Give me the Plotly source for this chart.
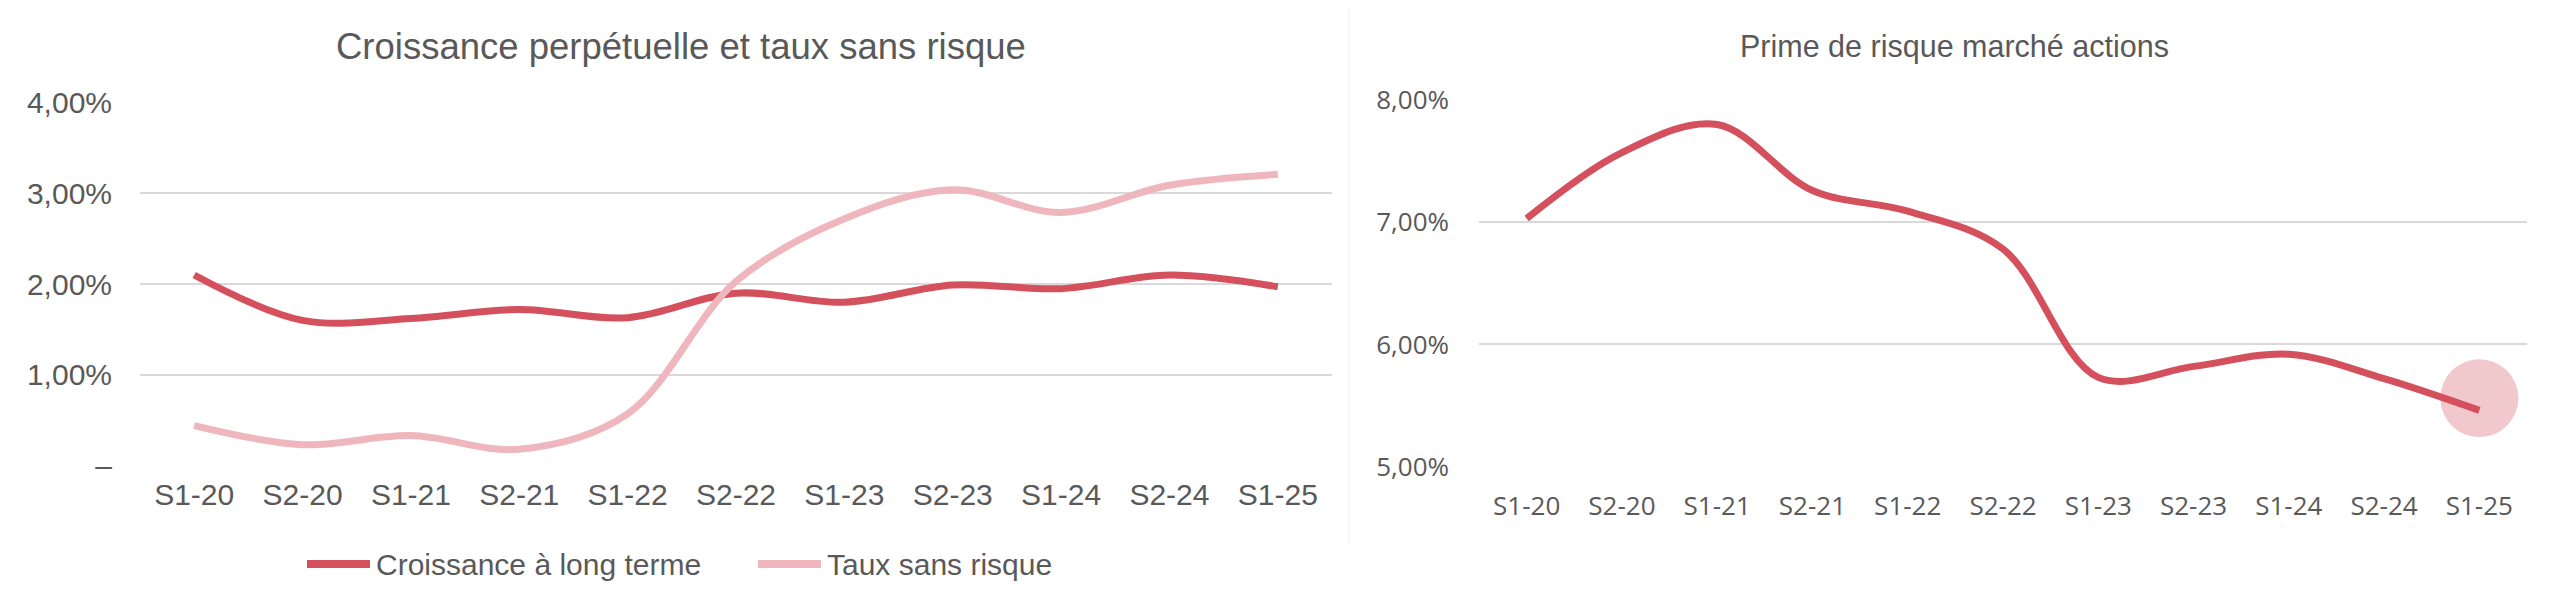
import plotly.graph_objects as go

# ---- data ----
periods = ["S1-20", "S2-20", "S1-21", "S2-21", "S1-22", "S2-22",
           "S1-23", "S2-23", "S1-24", "S2-24", "S1-25"]
croissance = [2.10, 1.60, 1.62, 1.72, 1.63, 1.90, 1.80, 1.99, 1.95, 2.10, 1.97]
taux_sans_risque = [0.44, 0.23, 0.33, 0.18, 0.57, 2.03, 2.72, 3.04, 2.79, 3.09, 3.21]
prime_risque = [7.03, 7.57, 7.80, 7.26, 7.09, 6.78, 5.73, 5.82, 5.92, 5.72, 5.46]
highlight_offset = 0.10

series_names = ["Croissance à long terme", "Taux sans risque"]

left_ticks = [0, 1, 2, 3, 4]
left_ticktext = ["–", "1,00%", "2,00%", "3,00%", "4,00%"]
right_ticks = [5, 6, 7, 8]
right_ticktext = ["5,00%", "6,00%", "7,00%", "8,00%"]

title_left = "Croissance perpétuelle et taux sans risque"
title_right = "Prime de risque marché actions"

# ---- style ----
W, H = 2560, 608
PAGE_OFF = 8  # default body margin of the html page
DARK = "#D4505D"
LIGHT = "#EFB7BD"
HALO = "#F1C9CD"
GRID = "#D9D9D9"
TXT = "#595959"
ARIAL = "Liberation Sans, Arial, sans-serif"
OPEN = "Open Sans, sans-serif"
series_colors = [DARK, LIGHT]

def px_x(v):
    return (v - PAGE_OFF) / W

def px_y(v):
    return (H - (v - PAGE_OFF)) / H

fig = go.Figure()

fig.add_trace(go.Scatter(
    x=periods, y=croissance, name=series_names[0], mode="lines",
    line=dict(color=DARK, width=7, shape="spline", smoothing=1.0),
    xaxis="x", yaxis="y", showlegend=False))
fig.add_trace(go.Scatter(
    x=periods, y=taux_sans_risque, name=series_names[1], mode="lines",
    line=dict(color=LIGHT, width=7, shape="spline", smoothing=1.0),
    xaxis="x", yaxis="y", showlegend=False))

# highlight halo on last point of right chart
fig.add_trace(go.Scatter(
    x=[periods[-1]], y=[prime_risque[-1] + highlight_offset], mode="markers",
    marker=dict(size=78, color=HALO, line=dict(width=0)),
    xaxis="x2", yaxis="y2", showlegend=False, hoverinfo="skip"))
fig.add_trace(go.Scatter(
    x=periods, y=prime_risque, name="Prime de risque", mode="lines",
    line=dict(color=DARK, width=7, shape="spline", smoothing=1.0),
    xaxis="x2", yaxis="y2", showlegend=False))

# custom legend (long line swatches as in the original)
legend_items = [(307, 370, 374), (758, 821, 825)]
shapes = [
    dict(type="line", xref="paper", yref="paper",
         x0=px_x(1349), x1=px_x(1349), y0=px_y(543), y1=px_y(4),
         line=dict(color="#F2EBEB", width=1)),
]
annotations = [
    dict(text=title_left, x=px_x(681), y=px_y(46), xref="paper", yref="paper",
         xanchor="center", yanchor="middle", showarrow=False,
         font=dict(family=ARIAL, size=36.5, color=TXT)),
    dict(text=title_right, x=px_x(1954), y=px_y(46), xref="paper", yref="paper",
         xanchor="center", yanchor="middle", showarrow=False,
         font=dict(family=ARIAL, size=30.5, color=TXT)),
]
for (x0, x1, xt), name, col in zip(legend_items, series_names, series_colors):
    shapes.append(dict(type="line", xref="paper", yref="paper",
                       x0=px_x(x0), x1=px_x(x1), y0=px_y(564), y1=px_y(564),
                       line=dict(color=col, width=8)))
    annotations.append(dict(text=name, x=px_x(xt), y=px_y(564), xref="paper",
                            yref="paper", xanchor="left", yanchor="middle",
                            showarrow=False,
                            font=dict(family=ARIAL, size=30, color=TXT)))

fig.update_layout(
    width=W, height=H,
    margin=dict(l=0, r=0, t=0, b=0, autoexpand=False),
    paper_bgcolor="white", plot_bgcolor="white",
    showlegend=False,
    xaxis=dict(domain=[px_x(140), px_x(1332)], type="category",
               categoryorder="array", categoryarray=periods,
               range=[-0.5, len(periods) - 0.5], showgrid=False,
               showline=False, zeroline=False, ticks="",
               tickfont=dict(family=ARIAL, size=30, color=TXT),
               ticklabelstandoff=8),
    yaxis=dict(domain=[px_y(465.5), px_y(102.7)], range=[0, 4],
               tickvals=left_ticks, ticktext=left_ticktext,
               showgrid=True, gridcolor=GRID, gridwidth=2,
               zeroline=False, showline=False, ticks="",
               tickfont=dict(family=ARIAL, size=30, color=TXT),
               ticklabelstandoff=27),
    xaxis2=dict(domain=[px_x(1479), px_x(2527)], type="category",
                categoryorder="array", categoryarray=periods,
                range=[-0.5, len(periods) - 0.5], showgrid=False,
                showline=False, zeroline=False, ticks="",
                tickfont=dict(family=OPEN, size=26, color=TXT),
                ticklabelstandoff=21, anchor="y2"),
    yaxis2=dict(domain=[px_y(466.6), px_y(100)], range=[5, 8],
                tickvals=right_ticks, ticktext=right_ticktext,
                showgrid=True, gridcolor=GRID, gridwidth=2,
                zeroline=False, showline=False, ticks="",
                tickfont=dict(family=OPEN, size=26, color=TXT),
                ticklabelstandoff=29, anchor="x2"),
    annotations=annotations,
    shapes=shapes,
)

fig.write_html("out.html")
